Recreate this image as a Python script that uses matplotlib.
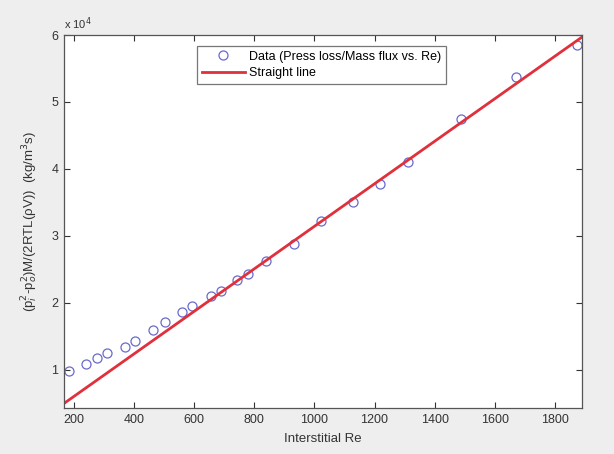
import numpy as np
import matplotlib
matplotlib.use("Agg")
import matplotlib.pyplot as plt
from matplotlib.ticker import FuncFormatter

# Data
re_vals = [183, 239, 276, 311, 369, 402, 463, 502, 559, 594, 656, 689, 744,
           780, 839, 933, 1022, 1128, 1217, 1311, 1489, 1672, 1874]
y_vals = [9800, 10800, 11700, 12500, 13400, 14300, 15900, 17200, 18600, 19500,
          21000, 21700, 23400, 24300, 26300, 28800, 32300, 35000, 37800, 41000,
          47500, 53700, 58500]
fit_slope = 31.75
fit_intercept = -320.0

x_limits = [167, 1890]
y_limits = [4300, 60000]
x_ticks = [200, 400, 600, 800, 1000, 1200, 1400, 1600, 1800]
y_ticks = [10000, 20000, 30000, 40000, 50000, 60000]

plt.rcParams['font.family'] = ['Liberation Sans', 'DejaVu Sans']
plt.rcParams['mathtext.fontset'] = 'dejavusans'

fig = plt.figure(figsize=(6.14, 4.54), dpi=100, facecolor='#eeeeee')
ax = fig.add_axes([0.1042, 0.1013, 0.8436, 0.8216])
ax.set_facecolor('white')

ax.plot(re_vals, y_vals, linestyle='none', marker='o', markersize=6.5,
        markerfacecolor='none', markeredgecolor='#6a6acc', markeredgewidth=0.9,
        label='Data (Press loss/Mass flux vs. Re)')
lx = np.array(x_limits, dtype=float)
ax.plot(lx, fit_slope * lx + fit_intercept, color='#e0303c', linewidth=2.0,
        label='Straight line')

ax.set_xlim(*x_limits)
ax.set_ylim(*y_limits)
ax.set_xticks(x_ticks)
ax.set_yticks(y_ticks)
ax.yaxis.set_major_formatter(FuncFormatter(lambda v, p: f"{v/1e4:g}"))
ax.tick_params(direction='in', top=True, right=True, length=4, width=0.8,
               labelsize=9, colors='#333333', pad=4)
for s in ax.spines.values():
    s.set_color('#555555')
    s.set_linewidth(0.9)

ax.text(0.0, 1.008, r'x 10$^4$', transform=ax.transAxes, fontsize=8,
        color='#333333', ha='left', va='bottom')

ax.set_xlabel('Interstitial Re', fontsize=9.5, color='#333333', labelpad=5)
ax.set_ylabel(r'(p$_i^2$-p$_o^2$)M/(2RTL(ρV))  (kg/m$^3$s)', fontsize=9.5,
              color='#333333', labelpad=8)

leg = ax.legend(loc='upper center', bbox_to_anchor=(0.497, 0.988), fontsize=9,
                frameon=True, fancybox=False, edgecolor='#555555',
                borderpad=0.4, handlelength=3.5, labelspacing=0.35,
                handletextpad=0.3)
leg.get_frame().set_linewidth(0.9)

fig.savefig('out.png', dpi=100, facecolor=fig.get_facecolor())
